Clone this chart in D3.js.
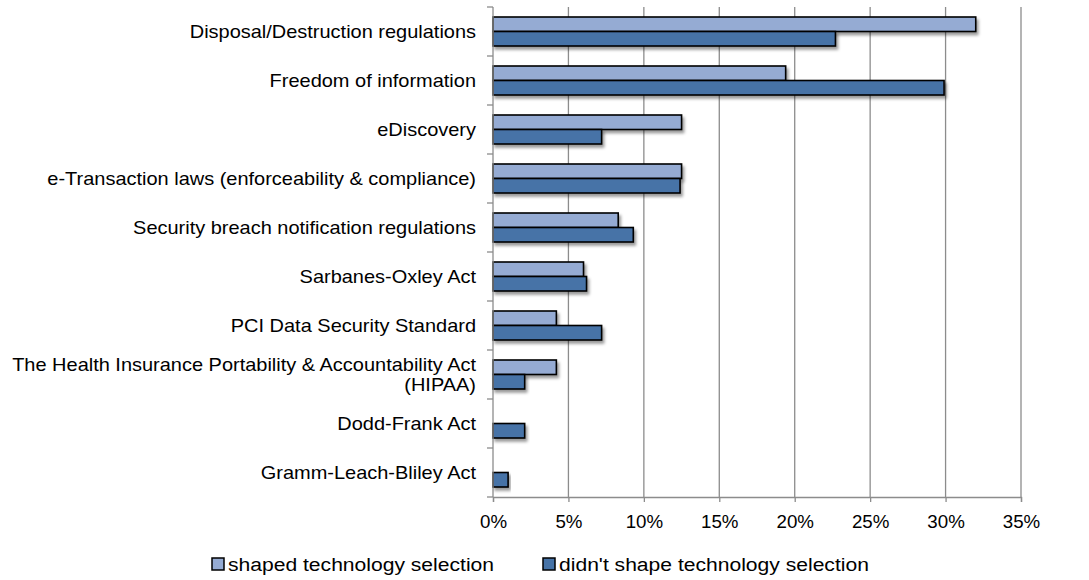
<!DOCTYPE html>
<html>
<head>
<meta charset="utf-8">
<script src="https://cdn.jsdelivr.net/npm/d3@7"></script>
<style>
  body { margin: 0; background: #fff; }
  text { font-family: "Liberation Sans", Arial, sans-serif; fill: #000; }
</style>
</head>
<body>
<div id="chart"></div>
<script>
// categories top to bottom, second line (if any) after "|"
var categories = [
    "Disposal/Destruction regulations",
    "Freedom of information",
    "eDiscovery",
    "e-Transaction laws (enforceability & compliance)",
    "Security breach notification regulations",
    "Sarbanes-Oxley Act",
    "PCI Data Security Standard",
    "The Health Insurance Portability & Accountability Act|(HIPAA)",
    "Dodd-Frank Act",
    "Gramm-Leach-Bliley Act"
];
var seriesNames = ["shaped technology selection", "didn't shape technology selection"];
var shaped = [32.0, 19.4, 12.5, 12.5, 8.3, 6.0, 4.2, 4.2, 0, 0];
var notShaped = [22.7, 29.9, 7.2, 12.4, 9.3, 6.2, 7.2, 2.1, 2.1, 1.0];
var xTicks = [0, 5, 10, 15, 20, 25, 30, 35];
var colors = ["#95abd3", "#4673a7"];

var width = 1089, height = 580;
var margin = {top: 7, right: 68, bottom: 83, left: 493};
var stretch = 1.11; // text in the original is slightly wide

var svg = d3.select("#chart").append("svg")
    .attr("width", width)
    .attr("height", height);

var defs = svg.append("defs");
var shadow = defs.append("filter").attr("id", "shadow")
    .attr("x", "-5%").attr("y", "-30%").attr("width", "120%").attr("height", "180%");
shadow.append("feDropShadow")
    .attr("dx", 2).attr("dy", 3).attr("stdDeviation", 1.8)
    .attr("flood-color", "#000").attr("flood-opacity", 0.4);

var x = d3.scaleLinear().domain([0, 35]).range([margin.left, width - margin.right]);
var y = d3.scaleBand().domain(d3.range(categories.length))
    .range([margin.top, height - margin.bottom]);
var inner = d3.scaleBand().domain([0, 1])
    .range([0, y.bandwidth()]).paddingInner(0).paddingOuter(0.69);

// gridlines
svg.append("g").selectAll("line")
    .data(xTicks.slice(1))
    .enter().append("line")
    .attr("x1", function (d) { return x(d); })
    .attr("x2", function (d) { return x(d); })
    .attr("y1", margin.top)
    .attr("y2", height - margin.bottom)
    .attr("stroke", "#8c8c8c")
    .attr("stroke-width", 1.3);

// bars
var rows = categories.map(function (c, i) {
    return [shaped[i], notShaped[i]].map(function (v, k) { return {v: v, k: k}; })
        .filter(function (o) { return o.v > 0; });
});
var group = svg.append("g").selectAll("g")
    .data(rows)
    .enter().append("g")
    .attr("transform", function (d, i) { return "translate(0," + y(i) + ")"; });

group.selectAll("rect")
    .data(function (d) { return d; })
    .enter().append("rect")
    .attr("x", x(0))
    .attr("y", function (d) { return inner(d.k); })
    .attr("width", function (d) { return x(d.v) - x(0); })
    .attr("height", inner.bandwidth())
    .attr("fill", function (d) { return colors[d.k]; })
    .attr("stroke", "#000")
    .attr("stroke-width", 1.6)
    .attr("filter", "url(#shadow)");

// x axis
var xAxis = svg.append("g")
    .attr("transform", "translate(0," + (height - margin.bottom) + ")")
    .call(d3.axisBottom(x).tickValues(xTicks).tickFormat(function (d) { return d + "%"; }).tickSizeOuter(0).tickSize(5).tickPadding(13));
xAxis.select(".domain").attr("stroke", "#8c8c8c").attr("stroke-width", 1.3);
xAxis.selectAll(".tick line").attr("stroke", "#8c8c8c").attr("stroke-width", 1.3);
xAxis.selectAll("text").style("font-size", "18px").attr("fill", "#000")
    .attr("transform", "scale(1.04,1)");

// y axis line and ticks at band edges
svg.append("line")
    .attr("x1", x(0)).attr("x2", x(0))
    .attr("y1", margin.top).attr("y2", height - margin.bottom)
    .attr("stroke", "#8c8c8c").attr("stroke-width", 1.3);
svg.append("g").selectAll("line")
    .data(d3.range(categories.length + 1))
    .enter().append("line")
    .attr("x1", x(0) - 6).attr("x2", x(0))
    .attr("y1", function (i) { return margin.top + i * y.step(); })
    .attr("y2", function (i) { return margin.top + i * y.step(); })
    .attr("stroke", "#8c8c8c").attr("stroke-width", 1.3);

// category labels
var labels = svg.append("g").selectAll("text")
    .data(categories)
    .enter().append("text")
    .attr("text-anchor", "end")
    .style("font-size", "18px")
    .attr("transform", function (d, i) {
        return "translate(" + (x(0) - 17) + "," + (y(i) + y.bandwidth() / 2) + ") scale(" + stretch + ",1)";
    });
labels.each(function (d) {
    var lines = d.split("|");
    var t = d3.select(this);
    lines.forEach(function (l, j) {
        t.append("tspan")
            .attr("x", 0)
            .attr("y", (j - (lines.length - 1) / 2) * 19.5)
            .attr("dy", "0.35em")
            .text(l);
    });
});

// legend
var legendX = [212, 543];
var legend = svg.append("g").selectAll("g")
    .data(seriesNames)
    .enter().append("g")
    .attr("transform", function (d, i) { return "translate(" + legendX[i] + "," + 564 + ")"; });
legend.append("rect")
    .attr("x", 0).attr("y", -6)
    .attr("width", 12).attr("height", 12)
    .attr("fill", function (d, i) { return colors[i]; })
    .attr("stroke", "#000").attr("stroke-width", 1.5);
legend.append("text")
    .attr("transform", "translate(16,0) scale(" + stretch + ",1)")
    .attr("dy", "0.35em")
    .style("font-size", "19px")
    .text(function (d) { return d; });
</script>
</body>
</html>
